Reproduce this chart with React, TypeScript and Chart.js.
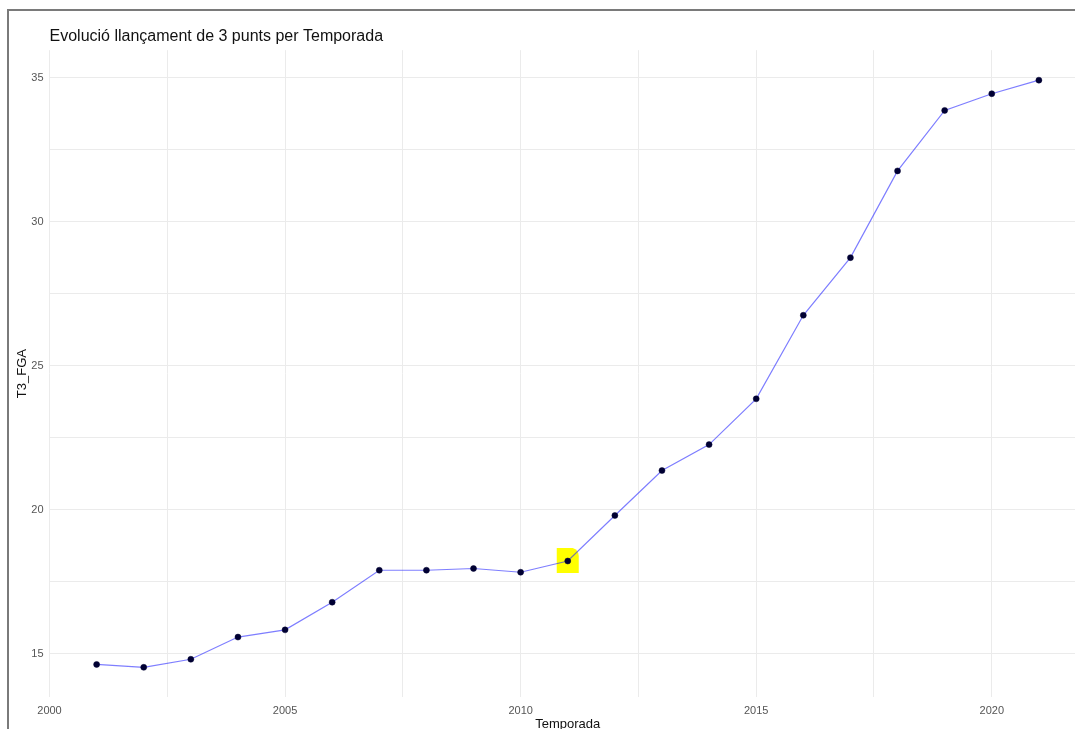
import React, { useEffect, useRef } from "react";
import { Chart, registerables } from "chart.js";

Chart.register(...registerables);

const seasons = [2001, 2002, 2003, 2004, 2005, 2006, 2007, 2008, 2009, 2010, 2011, 2012, 2013, 2014, 2015, 2016, 2017, 2018, 2019, 2020, 2021];
const t3fga = [14.63, 14.53, 14.81, 15.58, 15.83, 16.79, 17.9, 17.9, 17.96, 17.83, 18.22, 19.8, 21.36, 22.26, 23.85, 26.75, 28.75, 31.76, 33.86, 34.44, 34.91];
const xGridValues = [2000, 2002.5, 2005, 2007.5, 2010, 2012.5, 2015, 2017.5, 2020];
const xTickLabels = ["2000", "2005", "2010", "2015", "2020"];
const yGridValues = [15, 17.5, 20, 22.5, 25, 27.5, 30, 32.5, 35];
const yTickLabels = ["15", "20", "25", "30", "35"];
const highlightSeason = 2011;

const FONT = "'Liberation Sans', Arial, sans-serif";

const highlightPlugin = {
  id: "highlight",
  beforeDatasetsDraw(chart: any) {
    const idx = seasons.indexOf(highlightSeason);
    if (idx < 0) return;
    const px = chart.scales.x.getPixelForValue(seasons[idx]);
    const py = chart.scales.y.getPixelForValue(t3fga[idx]);
    const ctx = chart.ctx;
    ctx.save();
    ctx.fillStyle = "#ffff00";
    ctx.beginPath();
    ctx.moveTo(px - 11, py - 13);
    ctx.lineTo(px + 5, py - 13);
    ctx.quadraticCurveTo(px + 11, py - 11, px + 11, py - 5);
    ctx.lineTo(px + 11, py + 12);
    ctx.lineTo(px - 11, py + 12);
    ctx.closePath();
    ctx.fill();
    ctx.restore();
  },
};

export default function App() {
  const canvasRef = useRef<HTMLCanvasElement | null>(null);

  useEffect(() => {
    const canvas = canvasRef.current;
    if (!canvas) return;
    const chart = new Chart(canvas, {
      type: "line",
      data: {
        datasets: [
          {
            data: seasons.map((s, i) => ({ x: s, y: t3fga[i] })),
            borderColor: "rgba(40,40,255,0.6)",
            borderWidth: 1.2,
            pointRadius: 3,
            pointHoverRadius: 3,
            pointBackgroundColor: "#000033",
            pointBorderColor: "#000033",
            pointBorderWidth: 0.5,
            tension: 0,
          },
        ],
      },
      options: {
        responsive: false,
        animation: false,
        events: [],
        layout: { padding: { top: 27, right: 4, bottom: 0, left: 0 } },
        plugins: {
          legend: { display: false },
          tooltip: { enabled: false },
          title: {
            display: true,
            text: "Evolució llançament de 3 punts per Temporada",
            align: "start",
            fullSize: false,
            color: "#111111",
            font: { family: FONT, size: 16, weight: "normal", lineHeight: 1.2 },
            padding: { top: 0, bottom: 4 },
          },
        },
        scales: {
          x: {
            type: "linear",
            min: 2000,
            max: 2022,
            afterBuildTicks: (scale: any) => {
              scale.ticks = xGridValues.map((v) => ({ value: v }));
            },
            afterFit: (scale: any) => {
              scale.height = 48;
            },
            ticks: {
              autoSkip: false,
              maxRotation: 0,
              padding: 7,
              color: "#555555",
              font: { family: FONT, size: 11 },
              callback: (v: any) => (xTickLabels.includes(String(v)) ? String(v) : ""),
            },
            grid: { color: "#ebebeb", lineWidth: 1, drawTicks: false },
            border: { display: false },
            title: {
              display: true,
              text: "Temporada",
              color: "#111111",
              font: { family: FONT, size: 13, lineHeight: 1.2 },
              padding: { top: 0, bottom: 13 },
            },
          },
          y: {
            type: "linear",
            min: 13.5,
            max: 35.95,
            afterBuildTicks: (scale: any) => {
              scale.ticks = yGridValues.map((v) => ({ value: v }));
            },
            afterFit: (scale: any) => {
              scale.width = 49.5;
            },
            ticks: {
              autoSkip: false,
              padding: 6,
              color: "#555555",
              font: { family: FONT, size: 11 },
              callback: (v: any) => (yTickLabels.includes(String(v)) ? String(v) : ""),
            },
            grid: { color: "#ebebeb", lineWidth: 1, drawTicks: false },
            border: { display: false },
            title: {
              display: true,
              text: "T3_FGA",
              color: "#111111",
              font: { family: FONT, size: 13, lineHeight: 1.2 },
              padding: { top: 15, bottom: 0 },
            },
          },
        },
      },
      plugins: [highlightPlugin],
    } as any);
    return () => chart.destroy();
  }, []);

  return (
    <div
      style={{
        position: "fixed",
        left: 0,
        top: 0,
        width: 1075,
        height: 729,
        overflow: "hidden",
        background: "#ffffff",
      }}
    >
      <canvas ref={canvasRef} width={1090} height={745} style={{ position: "absolute", left: 0, top: 0 }} />
      <div
        style={{
          position: "absolute",
          left: 7,
          top: 9,
          right: 0,
          bottom: 0,
          borderTop: "2px solid #7a7a7a",
          borderLeft: "2px solid #7a7a7a",
          pointerEvents: "none",
        }}
      />
    </div>
  );
}
